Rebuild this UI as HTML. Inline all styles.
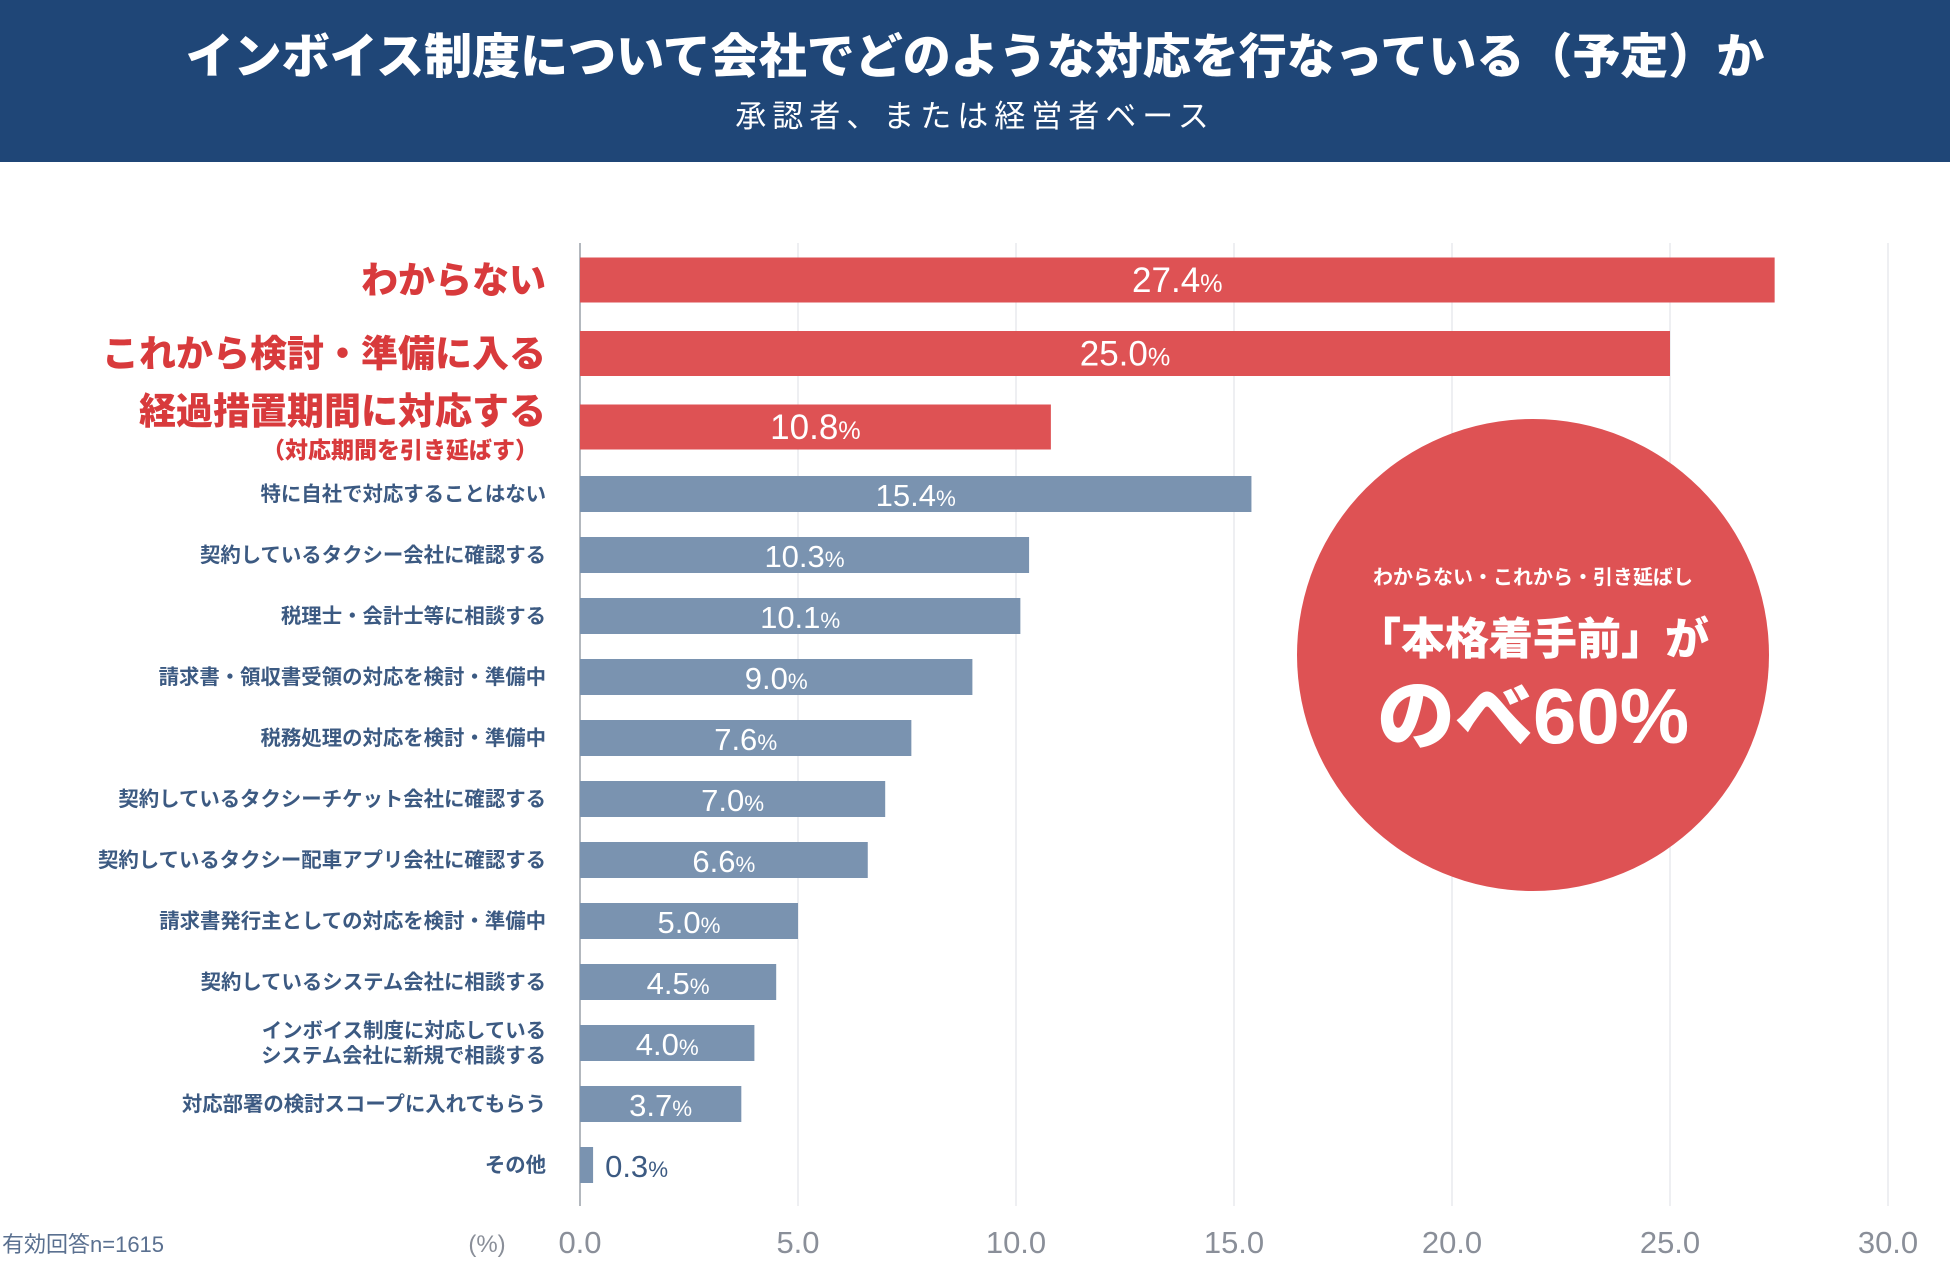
<!DOCTYPE html>
<html><head><meta charset="utf-8"><style>
html,body{margin:0;padding:0;background:#fff;}
body{width:1950px;height:1259px;overflow:hidden;font-family:"Liberation Sans","Noto Sans CJK JP",sans-serif;}
</style></head><body>
<svg id="chart" width="1950" height="1259" viewBox="0 0 1950 1259" xmlns="http://www.w3.org/2000/svg" font-family="'Liberation Sans','Noto Sans CJK JP',sans-serif">
<rect x="0" y="0" width="1950" height="162" fill="#1f4677"/>
<text x="975" y="73" text-anchor="middle" font-size="48" font-weight="900" fill="#fff">インボイス制度について会社でどのような対応を行なっている（予定）か</text>
<text x="975" y="127" text-anchor="middle" font-size="31" fill="#fff" letter-spacing="6">承認者、または経営者ベース</text>
<g id="grid"></g>
<g id="bars"></g>
<g id="labels"></g>
<g id="ticks"></g>
<text x="2" y="1252" font-size="22" fill="#5a7090">有効回答n=1615</text>
<text x="487" y="1252" text-anchor="middle" font-size="24" fill="#8a8f99">(%)</text>
<g>
<circle cx="1533" cy="655" r="236" fill="#de5254"/>
<text x="1533" y="584" text-anchor="middle" font-size="20" font-weight="700" fill="#fff">わからない・これから・引き延ばし</text>
<text x="1533" y="654" text-anchor="middle" font-size="44" font-weight="900" fill="#fff">「本格着手前」が</text>
<text x="1533" y="743" text-anchor="middle" font-size="78" font-weight="900" fill="#fff">のべ60%</text>
</g>
</svg>
<script>
const categories=["わからない","これから検討・準備に入る","経過措置期間に対応する","特に自社で対応することはない","契約しているタクシー会社に確認する","税理士・会計士等に相談する","請求書・領収書受領の対応を検討・準備中","税務処理の対応を検討・準備中","契約しているタクシーチケット会社に確認する","契約しているタクシー配車アプリ会社に確認する","請求書発行主としての対応を検討・準備中","契約しているシステム会社に相談する","インボイス制度に対応している|システム会社に新規で相談する","対応部署の検討スコープに入れてもらう","その他"];
const values=[27.4,25.0,10.8,15.4,10.3,10.1,9.0,7.6,7.0,6.6,5.0,4.5,4.0,3.7,0.3];
const highlight=[1,1,1,0,0,0,0,0,0,0,0,0,0,0,0];
const ticks=[0,5,10,15,20,25,30];
const ns="http://www.w3.org/2000/svg";
const X0=580,X1=1888,XMAX=30;
function xs(v){return X0+(X1-X0)*v/XMAX;}
function yc(i){return i<3?280+73.5*i:494+61*(i-3);}
function mk(tag,attrs,parent){const e=document.createElementNS(ns,tag);for(const k in attrs)e.setAttribute(k,attrs[k]);parent.appendChild(e);return e;}
const G=document.getElementById('grid'),B=document.getElementById('bars'),L=document.getElementById('labels'),T=document.getElementById('ticks');
ticks.forEach(t=>{
 const l=mk('line',{x1:xs(t),x2:xs(t),y1:243,y2:1206,stroke:t===0?'#9aa0a8':'#e2e4e8','stroke-width':t===0?1.5:1.2},G);
 
 
 const tx=mk('text',{x:xs(t),y:1253,'text-anchor':'middle','font-size':31,fill:'#8a8f99'},T);
 tx.textContent=t.toFixed(1);
 
 
});
values.forEach((v,i)=>{
 const h=highlight[i]?45:36,c=yc(i);
 const r=mk('rect',{x:X0,y:c-h/2,width:xs(v)-X0,height:h,fill:highlight[i]?'#de5254':'#7a93b0'},B);
 
 
 const inside=v>2;
 const vt=mk('text',{x:inside?(X0+xs(v))/2:xs(v)+12,y:c+12,'text-anchor':inside?'middle':'start','font-size':highlight[i]?35:31,'font-weight':500,fill:inside?'#fff':'#3c5a82'},B);
 vt.innerHTML=v.toFixed(1)+'<tspan font-size="0.72em">%</tspan>';
 
 
 const parts=categories[i].split('|');
 if(highlight[i]){
  const lt=mk('text',{x:546,y:i===2?c-3:c+13,'text-anchor':'end','font-size':37,'font-weight':900,fill:'#d83a3c'},L);
  lt.textContent=parts[0];
  
  
  if(i===2){const s=mk('text',{x:538,y:c+31,'text-anchor':'end','font-size':23,'font-weight':900,fill:'#d83a3c'},L);s.textContent='（対応期間を引き延ばす）';
   
   }
 } else {
  parts.forEach((p,k)=>{
   const lt=mk('text',{x:546,y:c+7+(k-(parts.length-1)/2)*25,'text-anchor':'end','font-size':20.4,'font-weight':700,fill:'#3c5a82'},L);
   lt.textContent=p;
   
   
  });
 }
});
</script>
</body></html>
